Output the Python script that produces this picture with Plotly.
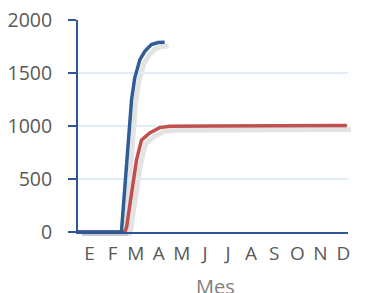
import plotly.graph_objects as go

# Data (x in months: 0 = start of Enero, 12 = end of Diciembre)
month_labels = ["E", "F", "M", "A", "M", "J", "J", "A", "S", "O", "N", "D"]
y_ticks = [0, 500, 1000, 1500, 2000]
x_title = "Mes"

blue_x = [0, 1.93, 2.38, 2.52, 2.75, 2.97, 3.26, 3.56, 3.85]
blue_y = [0, 0, 1246, 1452, 1626, 1704, 1768, 1788, 1790]

red_x = [0, 2.08, 2.16, 2.38, 2.6, 2.82, 3.0, 3.19, 3.63, 4.07, 6, 8, 10, 11.95]
red_y = [0, 0, 45, 362, 678, 867, 905, 935, 985, 998, 1000, 1002, 1004, 1005]

BLUE = "#2F5D95"
RED = "#C0504D"
AXIS = "#2F5597"
GRID = "#DDEFF5"
TXT = "#595959"

W, H = 366, 293
L, R, T, B = 78, 11, 20, 57
pw = W - L - R          # 277
ph = H - T - B
sx, sy = 4, 4           # shadow offset in px
main_w = 270            # width of the drawn plot area in px

fig = go.Figure()

# shadows on the first (hidden) subplot, drawn beneath
for xs, ys in [(red_x, red_y), (blue_x, blue_y)]:
    fig.add_trace(go.Scatter(x=xs, y=ys, mode="lines", xaxis="x", yaxis="y",
                             line=dict(color="rgba(0,0,0,0.11)", width=5),
                             hoverinfo="skip", showlegend=False))
# main lines
fig.add_trace(go.Scatter(x=red_x, y=red_y, mode="lines", xaxis="x2", yaxis="y2",
                         line=dict(color=RED, width=3.5), showlegend=False))
fig.add_trace(go.Scatter(x=blue_x, y=blue_y, mode="lines", xaxis="x2", yaxis="y2",
                         line=dict(color=BLUE, width=3.5), showlegend=False))
# carrier for the month-initial label axis (on the hidden y axis: no gridlines)
fig.add_trace(go.Scatter(x=list(range(len(month_labels))), y=[None] * len(month_labels),
                         mode="lines", xaxis="x3", yaxis="y",
                         hoverinfo="skip", showlegend=False))

fig.add_annotation(text=x_title, xref="paper", yref="paper",
                   x=(main_w / 2 + 2.5) / pw, y=sy / ph, xanchor="center", yanchor="top",
                   yshift=-39, showarrow=False,
                   font=dict(size=20, color="#7F7F7F", family="Open Sans"))

fig.update_layout(
    width=W, height=H,
    margin=dict(l=L, r=R, t=T, b=B, autoexpand=False),
    paper_bgcolor="white", plot_bgcolor="rgba(0,0,0,0)",
    font=dict(family="Open Sans", color=TXT),
    xaxis=dict(domain=[sx / pw, (main_w + sx) / pw], range=[0, 12], visible=False, anchor="y"),
    yaxis=dict(domain=[0, 1 - sy / ph], range=[0, 2000], visible=False, anchor="x"),
    xaxis2=dict(domain=[0, main_w / pw], range=[0, 12], anchor="y2", automargin=False,
                showticklabels=False, ticks="", showgrid=False, zeroline=False,
                showline=True, linecolor=AXIS, linewidth=2),
    xaxis3=dict(domain=[0, 1], range=[-0.5, len(month_labels) - 0.5],
                anchor="free", position=sy / ph,
                automargin=False, tickmode="array",
                tickvals=list(range(len(month_labels))), ticktext=month_labels,
                ticks="", showgrid=False, zeroline=False, showline=False,
                tickfont=dict(size=19, color=TXT), ticklabelstandoff=8),
    yaxis2=dict(domain=[sy / ph, 1], range=[0, 2000], anchor="x2", automargin=False,
                tickmode="array", tickvals=y_ticks,
                ticks="outside", ticklen=8, tickwidth=2, tickcolor=AXIS,
                showgrid=True, gridcolor=GRID, gridwidth=1.5, zeroline=False,
                showline=True, linecolor=AXIS, linewidth=2, ticklabeloverflow="allow",
                tickfont=dict(size=19.5, color=TXT), ticklabelstandoff=12),
)

# remove the page's default body margin so the figure fills the window exactly
fig.write_html("out.html", config={"displayModeBar": False},
               post_script="document.body.style.margin='0';")
